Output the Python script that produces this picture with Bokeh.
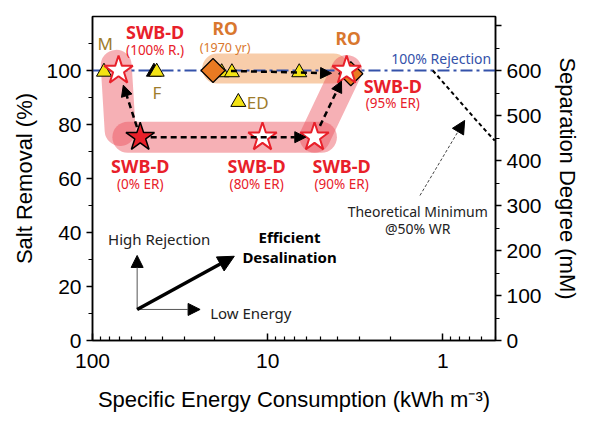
import math
from bokeh.plotting import figure
from bokeh.models import (Range1d, LinearAxis, FixedTicker,
                          Arrow, NormalHead, CustomJSTickFormatter)
from bokeh.core.properties import value
from bokeh.embed import file_html
from bokeh.resources import INLINE

# ---------------- data ----------------
x_major_ticks = [100, 10, 1]
x_minor_ticks = [90, 80, 70, 60, 50, 40, 30, 20, 9, 8, 7, 6, 5, 4, 3, 2,
                 0.9, 0.8, 0.7, 0.6, 0.5]
y_left_ticks = [0, 20, 40, 60, 80, 100]
y_left_minor = [10, 30, 50, 70, 90, 110]
y_right_ticks = [0, 100, 200, 300, 400, 500, 600, 700]
y_right_minor = [50, 150, 250, 350, 450, 550, 650]

# SWB-D states: energy (kWh m-3), salt removal (%)
swb_names = ["(100% R.)", "(0% ER)", "(80% ER)", "(90% ER)", "(95% ER)"]
swb_energy = [71.0, 53.4, 10.7, 5.4, 3.54]
swb_removal = [100.0, 75.3, 75.3, 75.3, 100.0]

# RO (diamonds)
ro_names = ["(1970 yr)", "2017"]
ro_energy = [20.5, 3.35]
ro_removal = [100.0, 98.8]

# other technologies (triangles)
tri_names = ["M", "F", "RO", "RO", "RO", "ED"]
tri_energy = [86.0, 43.0, 18.3, 16.0, 6.6, 14.7]
tri_removal = [99.5, 99.5, 99.3, 99.3, 99.3, 88.3]
f_black_energy = [44.6]
f_black_removal = [99.5]

# theoretical minimum @50% WR
tm_energy = [1.14, 0.854, 0.657, 0.505]
tm_removal = [100.0, 90.7, 82.2, 74.0]

# highlight bands
band_swb_x = [[73.2, 69.5], [62.8, 4.93], [5.37, 3.54]]
band_swb_y = [[101.9, 77.8], [75.3, 75.3], [75.3, 100.0]]
band_ro_x = [[19.4, 4.2]]
band_ro_y = [[100.7, 100.7]]

rejection_level = 100.0
sep_per_removal = 6.0   # 100 % -> 600 mM

# ---------------- figure ----------------
p = figure(frame_width=403, frame_height=324, x_axis_type="log",
           x_range=Range1d(100, 0.5), y_range=Range1d(0, 120),
           output_backend="svg", toolbar_location=None,
           min_border_left=92, min_border_right=97, min_border_top=16,
           min_border_bottom=76)
p.grid.visible = False
p.outline_line_color = "black"
p.outline_line_width = 1.5
p.background_fill_color = "white"
p.border_fill_color = "white"

p.extra_y_ranges = {"sep": Range1d(0, 120 * sep_per_removal)}
raxis = LinearAxis(y_range_name="sep")
p.add_layout(raxis, "right")

AX_FONT = "Liberation Sans"
for ax in [p.xaxis[0], p.yaxis[0], raxis]:
    ax.axis_line_width = 1.5
    ax.major_tick_line_width = 1.5
    ax.minor_tick_line_width = 1.2
    ax.major_label_text_font = AX_FONT
    ax.major_label_text_font_size = "21px"
    ax.major_label_text_color = "black"
    ax.axis_label_text_font = AX_FONT
    ax.axis_label_text_font_size = "22px"
    ax.axis_label_text_font_style = "normal"
    ax.axis_label_text_color = "black"

xa = p.xaxis[0]
xa.ticker = FixedTicker(ticks=x_major_ticks, minor_ticks=x_minor_ticks)
xa.formatter = CustomJSTickFormatter(code="return tick.toString();")
xa.major_tick_in = 7
xa.major_tick_out = 0
xa.minor_tick_in = 4
xa.minor_tick_out = 0
xa.major_label_standoff = 13
xa.axis_label = "Specific Energy Consumption (kWh m\u207b\u00b3)"
xa.axis_label_standoff = 16

ya = p.yaxis[0]
ya.ticker = FixedTicker(ticks=y_left_ticks, minor_ticks=y_left_minor)
ya.major_tick_in = 0
ya.major_tick_out = 6
ya.minor_tick_in = 0
ya.minor_tick_out = 4
ya.major_label_standoff = 5
ya.axis_label = "Salt Removal (%)"
ya.axis_label_standoff = 6

raxis.ticker = FixedTicker(ticks=y_right_ticks, minor_ticks=y_right_minor)
raxis.formatter = CustomJSTickFormatter(code="return tick >= 700 ? '' : tick.toString();")
raxis.major_tick_in = 0
raxis.major_tick_out = 6
raxis.minor_tick_in = 0
raxis.minor_tick_out = 4
raxis.major_label_standoff = 5
raxis.axis_label = "Separation Degree (mM)"
raxis.axis_label_standoff = 10

# ---------------- bands ----------------
p.multi_line(xs=band_ro_x, ys=band_ro_y, line_width=30, line_color="#f19b55",
             line_alpha=0.5, line_cap="round")
p.multi_line(xs=band_swb_x, ys=band_swb_y, line_width=31, line_color="#eb505c",
             line_alpha=0.45, line_cap="round")

# 100 % rejection line
p.line(x=[100, 0.5], y=[rejection_level, rejection_level], line_color="#3452aa",
       line_width=2.2, line_dash="12 4 3 4")

# theoretical minimum curve
p.line(x=tm_energy, y=tm_removal, line_color="black", line_width=2, line_dash="4 3")


# ---------------- arrows ----------------
def between(e0, r0, e1, r1, f):
    le = math.log10(e0) + (math.log10(e1) - math.log10(e0)) * f
    return 10 ** le, r0 + (r1 - r0) * f


def dashed_arrow(i0, i1, f0, f1, ex, ry):
    xs, ys = between(ex[i0], ry[i0], ex[i1], ry[i1], f0)
    xe, ye = between(ex[i0], ry[i0], ex[i1], ry[i1], f1)
    p.add_layout(Arrow(end=NormalHead(size=11, fill_color="black", line_color="black"),
                       x_start=xs, y_start=ys, x_end=xe, y_end=ye,
                       line_color="black", line_width=2.5, line_dash="6 4"))


dashed_arrow(1, 0, 0.15, 0.78, swb_energy, swb_removal)
dashed_arrow(1, 3, 0.06, 0.95, swb_energy, swb_removal)
dashed_arrow(3, 4, 0.17, 0.84, swb_energy, swb_removal)
dashed_arrow(0, 1, 0.13, 0.86, ro_energy, ro_removal)

# theoretical minimum pointer
p.add_layout(Arrow(end=NormalHead(size=13, fill_color="black", line_color="black"),
                   x_start=1.35, y_start=53.7, x_end=0.75, y_end=81.5,
                   line_color="#444444", line_width=1, line_dash="3 2"))

# guide arrows (bottom left)
guide_origin = (55.6, 11.5)
p.add_layout(Arrow(end=NormalHead(size=12, fill_color="black", line_color="black"),
                   x_start=guide_origin[0], y_start=guide_origin[1],
                   x_end=55.6, y_end=31.5, line_color="#555555", line_width=1))
p.add_layout(Arrow(end=NormalHead(size=12, fill_color="black", line_color="black"),
                   x_start=guide_origin[0], y_start=guide_origin[1],
                   x_end=24.3, y_end=11.5, line_color="#555555", line_width=1))
p.add_layout(Arrow(end=NormalHead(size=16, fill_color="black", line_color="black"),
                   x_start=guide_origin[0], y_start=guide_origin[1],
                   x_end=15.5, y_end=31.2, line_color="black", line_width=3.5))

# ---------------- markers ----------------
p.scatter(x=f_black_energy, y=f_black_removal, marker="triangle", size=15,
          fill_color="black", line_color="black", line_width=1)
p.scatter(x=tri_energy, y=tri_removal, marker="triangle", size=15,
          fill_color="#f3e313", line_color="black", line_width=1)
p.scatter(x=ro_energy, y=ro_removal, marker="square", size=17, angle=math.pi / 4,
          fill_color="#e97a22", line_color="black", line_width=1.2)
p.scatter(x=[swb_energy[i] for i in (0, 2, 3, 4)],
          y=[swb_removal[i] for i in (0, 2, 3, 4)], marker="star", size=30,
          fill_color="white", line_color="#e8202a", line_width=2)
p.scatter(x=[swb_energy[1]], y=[swb_removal[1]], marker="star", size=30,
          fill_color="#e8202a", line_color="black", line_width=1.5)

# ---------------- texts ----------------
TF = value("Noto Sans")
RED = "#e8202a"
ORANGE = "#d9772e"
OLIVE = "#9e7c2c"

swb_lab_x = [43.9, 53.4, 11.55, 3.78, 1.93]
swb_lab_y = [114.2, 64.8, 64.8, 64.8, 94.4]
swb_sub_y = [107.7, 58.1, 58.1, 58.1, 87.8]
p.text(x=swb_lab_x, y=swb_lab_y, text=["SWB-D"] * 5, text_font=TF,
       text_font_size="18px", text_font_style="bold", text_color=RED,
       text_align="center", text_baseline="middle")
p.text(x=swb_lab_x, y=swb_sub_y, text=swb_names, text_font=TF,
       text_font_size="13.5px", text_color=RED, text_align="center",
       text_baseline="middle")

p.text(x=[17.5, 3.47], y=[115.6, 112.2], text=["RO", "RO"], text_font=TF,
       text_font_size="17.5px", text_font_style="bold", text_color=ORANGE,
       text_align="center", text_baseline="middle")
p.text(x=[17.5], y=[108.5], text=[ro_names[0]], text_font=TF,
       text_font_size="12.5px", text_color=ORANGE, text_align="center",
       text_baseline="middle")

p.text(x=[84.7, 42.9], y=[110.0, 92.0], text=[tri_names[0], tri_names[1]],
       text_font=TF, text_font_size="17px", text_color=OLIVE,
       text_align="center", text_baseline="middle")
p.text(x=[13.17], y=[88.3], text=[tri_names[5]], text_font=TF,
       text_font_size="17px", text_color=OLIVE, text_align="left",
       text_baseline="middle")

p.text(x=[1.02], y=[104.3], text=["100% Rejection"], text_font=TF,
       text_font_size="14px", text_color="#3452aa", text_align="center",
       text_baseline="middle")

p.text(x=[1.39, 1.39], y=[47.9, 41.4], text=["Theoretical Minimum", "@50% WR"],
       text_font=TF, text_font_size="14px", text_color="#222222",
       text_align="center", text_baseline="middle")

p.text(x=[41.6], y=[37.7], text=["High Rejection"], text_font=TF,
       text_font_size="15px", text_color="#222222", text_align="center",
       text_baseline="middle")
p.text(x=[21.3], y=[10.1], text=["Low Energy"], text_font=TF,
       text_font_size="15px", text_color="#222222", text_align="left",
       text_baseline="middle")
p.text(x=[7.5, 7.5], y=[38.5, 31.1], text=["Efficient", "Desalination"],
       text_font=TF, text_font_size="15px", text_font_style="bold",
       text_color="black", text_align="center", text_baseline="middle")

open("out.html", "w").write(file_html(p, INLINE))
